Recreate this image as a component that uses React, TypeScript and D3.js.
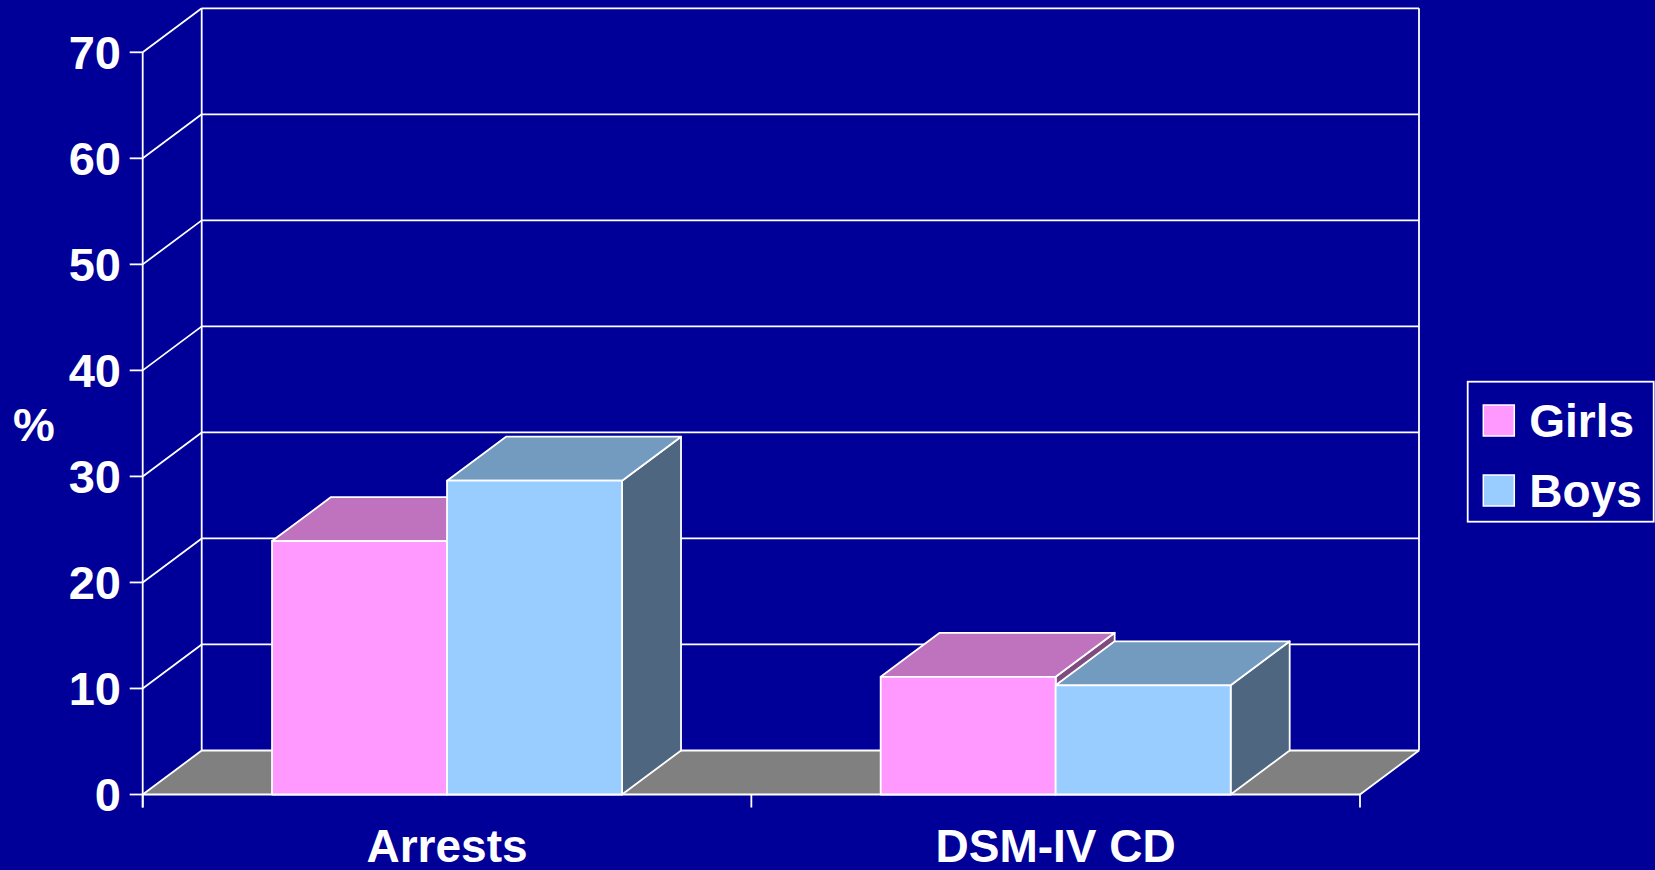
import React from "react";
import * as d3 from "d3";

// chart data
const categories = ["Arrests", "DSM-IV CD"];
const seriesNames = ["Girls", "Boys"];
const girlsValues = [23.9, 11.1];
const boysValues = [29.6, 10.3];
const yTicks = [0, 10, 20, 30, 40, 50, 60, 70];

const seriesValues = [girlsValues, boysValues];
const faceColors = [
  { front: "#FF99FF", top: "#BF73BF", side: "#7F4C7F" },
  { front: "#99CCFF", top: "#739ABF", side: "#4F6680" },
];

const W = 1655, H = 870;
const left = 142.7, right = 1360;
const depthX = 59, depthY = -44;
const font = "'Liberation Sans', Arial, sans-serif";

export default function App() {
  const y = d3.scaleLinear().domain([0, 70]).range([794.5, 52.3]);
  const x0 = d3.scaleBand<string>().domain(categories).range([left, right]).paddingInner(0).paddingOuter(0);
  const x1 = d3.scaleBand<string>().domain(seriesNames).range([0, x0.bandwidth()]).paddingInner(0).paddingOuter(0.739);

  const pts = (p: number[][]) => p.map((d) => d.join(",")).join(" ");
  const y0 = y(0);
  const yTop = y(70);

  return (
    <svg width={W} height={H} style={{ position: "absolute", left: 0, top: 0, background: "#000099" }}>
      <rect width={W} height={H} fill="#000099" />
      {/* floor */}
      <polygon
        points={pts([[left, y0], [right, y0], [right + depthX, y0 + depthY], [left + depthX, y0 + depthY]])}
        fill="#808080"
      />
      <g stroke="#fff" strokeWidth={1.8} fill="none">
        {/* back wall gridlines and side wall diagonals */}
        {yTicks.map((t) => (
          <g key={t}>
            <line x1={left + depthX} x2={right + depthX} y1={y(t) + depthY} y2={y(t) + depthY} />
            <line x1={left} x2={left + depthX} y1={y(t)} y2={y(t) + depthY} />
            <line x1={left - 13} x2={left} y1={y(t)} y2={y(t)} />
          </g>
        ))}
        <line x1={left + depthX} x2={left + depthX} y1={yTop + depthY} y2={y0 + depthY} />
        <line x1={right + depthX} x2={right + depthX} y1={yTop + depthY} y2={y0 + depthY} />
        <line x1={right} x2={right + depthX} y1={y0} y2={y0 + depthY} />
        <line x1={left} x2={left} y1={yTop} y2={y0 + 13} />
        <line x1={left} x2={right} y1={y0} y2={y0} />
        {[left, left + x0.bandwidth(), right].map((t, i) => (
          <line key={i} x1={t} x2={t} y1={y0} y2={y0 + 13} />
        ))}
      </g>
      {/* bars */}
      {categories.map((c, ci) => (
        <g key={c}>
          {seriesNames.map((s, si) => {
            const bx = (x0(c) ?? 0) + (x1(s) ?? 0);
            const bw = x1.bandwidth();
            const by = y(seriesValues[si][ci]);
            const col = faceColors[si];
            return (
              <g key={s} stroke="#fff" strokeWidth={1.8} strokeLinejoin="round">
                <polygon
                  points={pts([[bx + bw, by], [bx + bw + depthX, by + depthY], [bx + bw + depthX, y0 + depthY], [bx + bw, y0]])}
                  fill={col.side}
                />
                <polygon
                  points={pts([[bx, by], [bx + depthX, by + depthY], [bx + bw + depthX, by + depthY], [bx + bw, by]])}
                  fill={col.top}
                />
                <rect x={bx} y={by} width={bw} height={y0 - by} fill={col.front} />
              </g>
            );
          })}
        </g>
      ))}
      {/* y tick labels */}
      <g fill="#fff" fontFamily={font} fontWeight="bold" fontSize={47} textAnchor="end">
        {yTicks.map((t) => (
          <text key={t} x={121} y={y(t)} dy="0.36em">{t}</text>
        ))}
      </g>
      <text x={13} y={424} dy="0.36em" fill="#fff" fontFamily={font} fontWeight="bold" fontSize={47}>%</text>
      {/* category labels */}
      <g fill="#fff" fontFamily={font} fontWeight="bold" fontSize={46} textAnchor="middle">
        {categories.map((c) => (
          <text key={c} x={(x0(c) ?? 0) + x0.bandwidth() / 2} y={862}>{c}</text>
        ))}
      </g>
      {/* legend */}
      <g>
        <rect x={1467.7} y={381.7} width={186} height={140} fill="#000099" stroke="#fff" strokeWidth={1.8} />
        {seriesNames.map((s, i) => (
          <g key={s} transform={`translate(1483.3, ${405 + i * 70})`}>
            <rect width={31} height={31} fill={faceColors[i].front} stroke="#fff" strokeWidth={1.5} />
            <text x={46} y={32} fill="#fff" fontFamily={font} fontWeight="bold" fontSize={46}>{s}</text>
          </g>
        ))}
      </g>
    </svg>
  );
}
